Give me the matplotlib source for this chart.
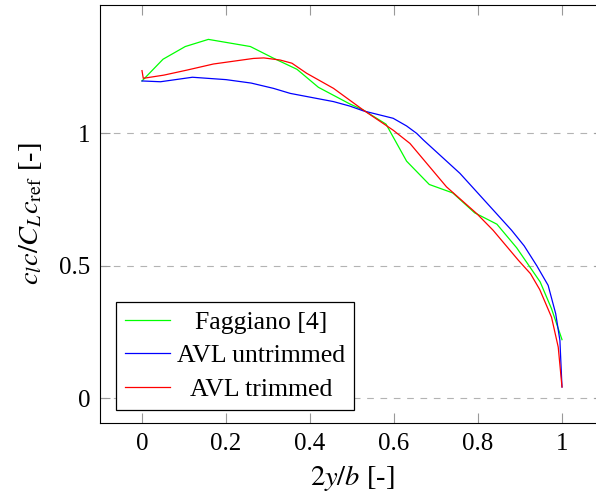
import matplotlib
matplotlib.use("Agg")
import matplotlib.pyplot as plt

plt.rcParams['font.family'] = ['Liberation Serif', 'DejaVu Serif']
plt.rcParams['mathtext.fontset'] = 'stix'
plt.rcParams['lines.scale_dashes'] = False

# span position 2y/b and normalised lift c_l c / (C_L c_ref)
faggiano_x = [0, 0.05, 0.103, 0.158, 0.258, 0.313, 0.369, 0.42, 0.495, 0.527,
              0.581, 0.63, 0.684, 0.74, 0.792, 0.845, 0.892, 0.948, 0.975, 1.0]
faggiano_y = [1.198, 1.28, 1.328, 1.355, 1.328, 1.284, 1.242, 1.174, 1.111, 1.088,
              1.035, 0.895, 0.807, 0.775, 0.70, 0.657, 0.568, 0.439, 0.338, 0.221]

untrimmed_x = [0, 0.044, 0.12, 0.2, 0.26, 0.313, 0.353, 0.416, 0.456, 0.495, 0.527,
               0.598, 0.63, 0.654, 0.67, 0.757, 0.844, 0.88, 0.91, 0.94, 0.967, 0.985,
               0.995, 1.0]
untrimmed_y = [1.198, 1.195, 1.212, 1.203, 1.19, 1.17, 1.151, 1.132, 1.12, 1.103, 1.085,
               1.057, 1.028, 1.0, 0.975, 0.849, 0.697, 0.634, 0.575, 0.50, 0.426, 0.319,
               0.218, 0.042]

trimmed_x = [0, 0.003, 0.052, 0.107, 0.17, 0.265, 0.29, 0.329, 0.357, 0.392, 0.456,
             0.527, 0.598, 0.638, 0.725, 0.797, 0.836, 0.896, 0.925, 0.947, 0.975,
             0.991, 1.0]
trimmed_y = [1.237, 1.208, 1.22, 1.239, 1.262, 1.283, 1.285, 1.277, 1.265, 1.227, 1.170,
             1.088, 1.012, 0.962, 0.798, 0.697, 0.634, 0.521, 0.47, 0.41, 0.306,
             0.193, 0.042]

labels = ['Faggiano [4]', 'AVL untrimmed', 'AVL trimmed']
xticks = [0, 0.2, 0.4, 0.6, 0.8, 1]
xticklabels = ['0', '0.2', '0.4', '0.6', '0.8', '1']
yticks = [0, 0.5, 1]
yticklabels = ['0', '0.5', '1']

fig = plt.figure(figsize=(5.96, 4.97), dpi=100)
ax = fig.add_axes([100 / 596, 73.7 / 497, 504 / 596, 418.6 / 497])

ax.plot(faggiano_x, faggiano_y, color=(0, 1, 0), lw=0.9, label=labels[0])
ax.plot(untrimmed_x, untrimmed_y, color=(0, 0, 1), lw=0.9, label=labels[1])
ax.plot(trimmed_x, trimmed_y, color=(1, 0, 0), lw=0.9, label=labels[2])

ax.set_xlim(-0.1, 1.1)
ax.set_ylim(-0.095, 1.486)
ax.set_xticks(xticks)
ax.set_xticklabels(xticklabels)
ax.set_yticks(yticks)
ax.set_yticklabels(yticklabels)
ax.tick_params(direction='in', length=7.5, width=0.8, color='#999999',
               labelsize=18, top=True, right=True, pad=7)
ax.grid(True, axis='y', color='#b3b3b3', lw=0.8, linestyle=(0, (4.8, 4.8)))
ax.set_axisbelow(True)
for sp in ax.spines.values():
    sp.set_linewidth(0.8)
    sp.set_color('black')

ax.set_xlabel('$2y/b$ [-]', fontsize=20.5, labelpad=6)
ax.set_ylabel(r'$c_l c/C_L c_{\mathrm{ref}}$ [-]', fontsize=20.5, labelpad=11)

leg = ax.legend(loc='lower left', bbox_to_anchor=(0.031, 0.032), borderaxespad=0,
                fontsize=18.5, fancybox=False, edgecolor='black', framealpha=1,
                handlelength=1.75, handletextpad=0.28, labelspacing=0.4,
                borderpad=0.36)
leg.get_frame().set_linewidth(0.9)

# centre the legend entries like pgfplots does
fig.canvas.draw()
r = fig.canvas.get_renderer()
widths = [t.get_window_extent(r).width for t in leg.get_texts()]
for t, w in zip(leg.get_texts(), widths):
    t.set_x((max(widths) - w) / 2)

fig.savefig('out.png', dpi=100)
